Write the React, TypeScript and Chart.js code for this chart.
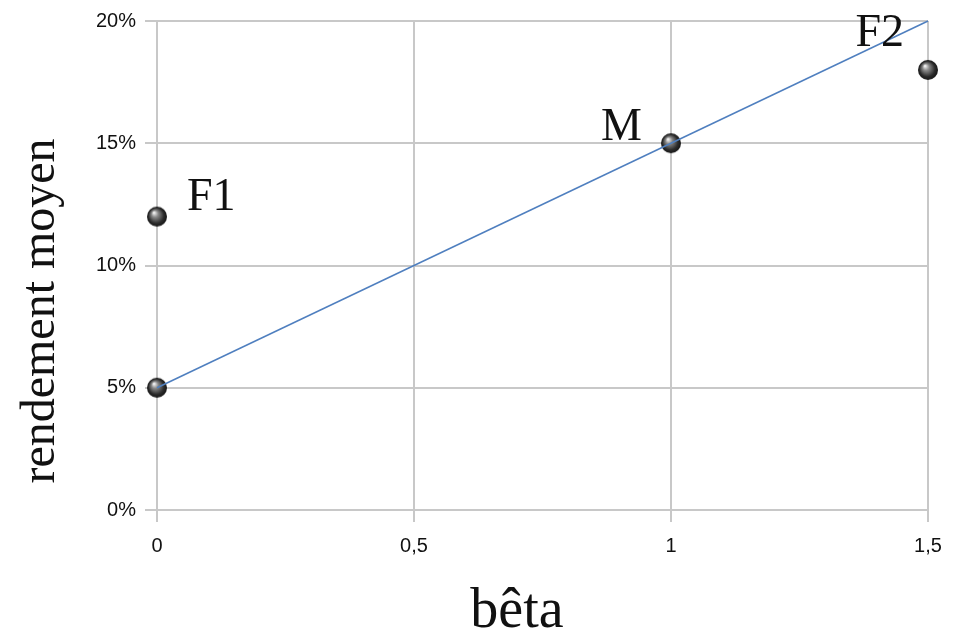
import React, { useEffect, useRef } from 'react';
import { Chart, registerables } from 'chart.js';

Chart.register(...registerables);

// ---- data ----
const pointNames = ['F1', '', 'M', 'F2'];
const pointBeta = [0, 0, 1, 1.5];
const pointReturn = [12, 5, 15, 18];
const smlBeta = [0, 1.5];
const smlReturn = [5, 20];
const xTickValues = [0, 0.5, 1, 1.5];
const xTickLabels = ['0', '0,5', '1', '1,5'];
const yTickValues = [0, 5, 10, 15, 20];
const yTickLabels = ['0%', '5%', '10%', '15%', '20%'];
const xTitle = 'bêta';
const yTitle = 'rendement moyen';

const SERIF = '"Liberation Serif", "Times New Roman", serif';
const SANS = '"Liberation Sans", Arial, sans-serif';
const GRID = '#c8c8c8';

function makeSphere(r: number): HTMLCanvasElement {
  const s = Math.ceil(r * 2 + 2);
  const c = document.createElement('canvas');
  c.width = s;
  c.height = s;
  const ctx = c.getContext('2d')!;
  const cx = s / 2;
  const cy = s / 2;
  const g = ctx.createRadialGradient(cx - r * 0.3, cy - r * 0.4, r * 0.05, cx, cy, r);
  g.addColorStop(0, '#f2f2f2');
  g.addColorStop(0.3, '#8a8a8a');
  g.addColorStop(0.75, '#2c2c2c');
  g.addColorStop(1, '#151515');
  ctx.fillStyle = g;
  ctx.beginPath();
  ctx.arc(cx, cy, r, 0, Math.PI * 2);
  ctx.fill();
  return c;
}

// label placement relative to the point (style, not data)
const labelPlacement: Record<string, { dx: number; dy: number; align: CanvasTextAlign }> = {
  F1: { dx: 30, dy: -7, align: 'left' },
  M: { dx: -29, dy: -3, align: 'right' },
  F2: { dx: -24, dy: -24, align: 'right' },
};

const labelPlugin = {
  id: 'pointLabels',
  afterDatasetsDraw(chart: any) {
    const ctx = chart.ctx;
    const xs = chart.scales.x;
    const ys = chart.scales.y;
    ctx.save();
    ctx.font = `46px ${SERIF}`;
    ctx.fillStyle = '#111';
    ctx.textBaseline = 'alphabetic';
    pointNames.forEach((name, i) => {
      if (!name) return;
      const p = labelPlacement[name];
      const px = xs.getPixelForValue(pointBeta[i]);
      const py = ys.getPixelForValue(pointReturn[i]);
      ctx.textAlign = p.align;
      ctx.fillText(name, px + p.dx, py + p.dy);
    });
    ctx.restore();
  },
};

const titlePlugin = {
  id: 'axisTitles',
  afterDraw(chart: any) {
    const ctx = chart.ctx;
    ctx.save();
    ctx.fillStyle = '#111';
    ctx.textBaseline = 'alphabetic';
    ctx.textAlign = 'center';
    ctx.font = `56px ${SERIF}`;
    ctx.fillText(xTitle, 517, 627);
    ctx.translate(54, 311);
    ctx.rotate(-Math.PI / 2);
    ctx.font = `48px ${SERIF}`;
    ctx.fillText(yTitle, 0, 0);
    ctx.restore();
  },
};

export default function App() {
  const ref = useRef<HTMLCanvasElement>(null);

  useEffect(() => {
    const sphere = makeSphere(10);
    const chart = new Chart(ref.current!, {
      type: 'scatter',
      data: {
        datasets: [
          {
            label: 'SML',
            data: smlBeta.map((b, i) => ({ x: b, y: smlReturn[i] })),
            showLine: true,
            borderColor: '#4f7fbf',
            borderWidth: 1.5,
            pointRadius: 0,
            order: 0,
            clip: false,
          },
          {
            label: 'titres',
            data: pointBeta.map((b, i) => ({ x: b, y: pointReturn[i] })),
            pointStyle: sphere as any,
            pointRadius: 10,
            order: 1,
            clip: false,
          },
        ],
      },
      options: {
        animation: false,
        responsive: true,
        maintainAspectRatio: false,
        layout: { padding: { top: 20, right: 34, left: 0, bottom: 0 } },
        plugins: { legend: { display: false }, tooltip: { enabled: false } },
        scales: {
          x: {
            type: 'linear',
            min: 0,
            max: 1.5,
            afterFit: (s: any) => {
              s.height = 125;
            },
            afterBuildTicks: (s: any) => {
              s.ticks = xTickValues.map((v) => ({ value: v }));
            },
            ticks: {
              callback: (v: any) => {
                const i = xTickValues.indexOf(Number(v));
                return i >= 0 ? xTickLabels[i] : '';
              },
              font: { family: SANS, size: 20 },
              color: '#111',
              padding: 12,
              maxRotation: 0,
            },
            grid: { color: GRID, lineWidth: 2, tickLength: 12 },
            border: { color: GRID, width: 2 },
          },
          y: {
            type: 'linear',
            min: 0,
            max: 20,
            afterFit: (s: any) => {
              s.width = 157;
            },
            afterBuildTicks: (s: any) => {
              s.ticks = yTickValues.map((v) => ({ value: v }));
            },
            ticks: {
              callback: (v: any) => {
                const i = yTickValues.indexOf(Number(v));
                return i >= 0 ? yTickLabels[i] : '';
              },
              font: { family: SANS, size: 20 },
              color: '#111',
              padding: 9,
            },
            grid: { color: GRID, lineWidth: 2, tickLength: 12 },
            border: { color: GRID, width: 2 },
          },
        },
      },
      plugins: [labelPlugin, titlePlugin],
    });
    return () => chart.destroy();
  }, []);

  return (
    <div style={{ position: 'fixed', left: 0, top: 0, width: 962, height: 635, background: '#fff' }}>
      <canvas ref={ref} />
    </div>
  );
}
